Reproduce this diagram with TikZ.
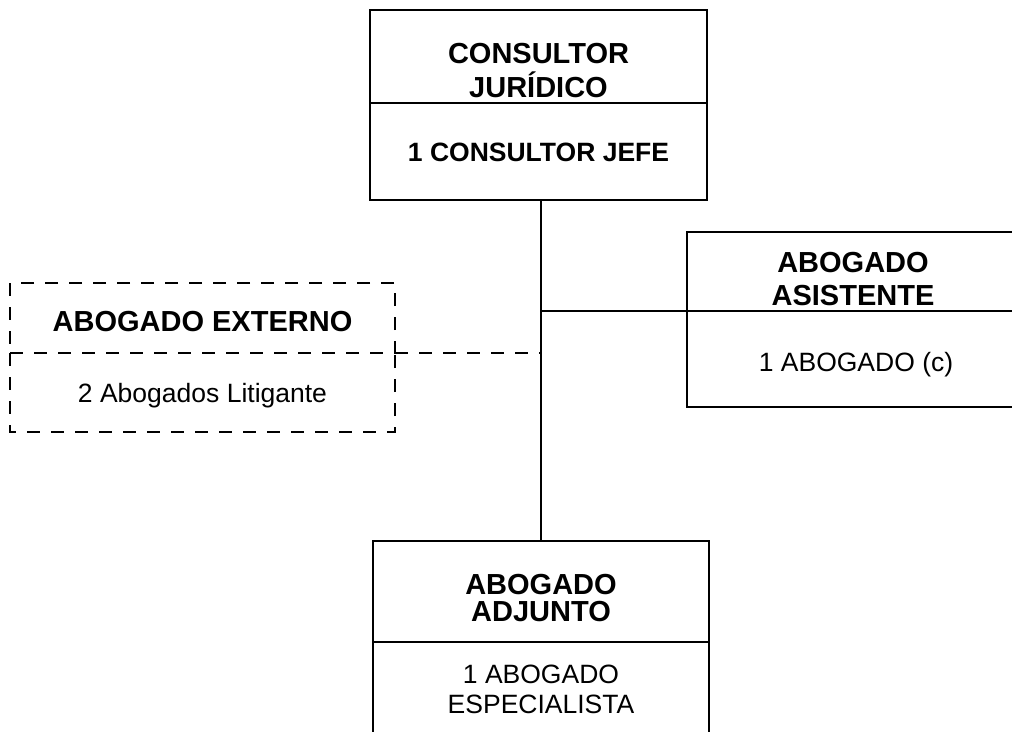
\documentclass[tikz,border=0pt]{standalone}
\usepackage{fontspec}
\setmainfont{Liberation Sans}
\begin{document}
\begin{tikzpicture}[x=1pt,y=-1pt,
  box/.style={draw, line width=2pt, rectangle, inner sep=0pt, outer sep=0pt, anchor=north west},
  dbox/.style={box, dash pattern=on 13pt off 11pt},
  area/.style={rectangle, inner sep=0pt, outer sep=0pt, anchor=north west},
  ttl/.style={font=\fontsize{29}{34}\selectfont\bfseries, anchor=base, inner sep=0pt},
  bdy/.style={font=\fontsize{26.5}{30}\selectfont, anchor=base, inner sep=0pt},
  bdyb/.style={font=\fontsize{26.5}{30}\selectfont\bfseries, anchor=base, inner sep=0pt},
  link/.style={line width=2pt},
  dlink/.style={line width=2pt, dash pattern=on 13pt off 11pt}]
\useasboundingbox (0,0) rectangle (1012,731);
\clip (0,0) rectangle (1012,731);

% CONSULTOR JURIDICO
\node[box, minimum width=337pt, minimum height=93pt] (topT) at (370,10) {};
\node[box, minimum width=337pt, minimum height=97pt] (topB) at (370,103) {};
% ABOGADO ASISTENTE
\node[box, minimum width=340pt, minimum height=79pt] (asiT) at (687,232) {};
\node[box, minimum width=340pt, minimum height=96pt] (asiB) at (687,311) {};
% ABOGADO EXTERNO (dashed)
\node[dbox, minimum width=385pt, minimum height=70pt] (extT) at (10,283) {};
\node[area, minimum width=385pt, minimum height=79pt] (extB) at (10,353) {};
\draw[dlink] (extT.south west) |- (extB.south east) -- (extT.south east);
% ABOGADO ADJUNTO
\node[box, minimum width=336pt, minimum height=101pt] (adjT) at (373,541) {};
\node[box, minimum width=336pt, minimum height=120pt] (adjB) at (373,642) {};

% texts
\node[ttl] (t1a) at (538.5,63) {CONSULTOR};
\node[ttl] (t1b) at (538.5,97) {JURÍDICO};
\node[bdyb] (b1) at (538.5,161) {1 CONSULTOR JEFE};
\node[ttl] (t2a) at (853,272.7) {ABOGADO};
\node[ttl] (t2b) at (853,305) {ASISTENTE};
\node[bdy] (b2) at (856,371.7) {1 ABOGADO (c)};
\node[ttl] (t3) at (202.5,331.7) {ABOGADO EXTERNO};
\node[bdy] (b3) at (202.5,402.7) {2 Abogados Litigante};
\node[ttl] (t4a) at (541,594) {ABOGADO};
\node[ttl] (t4b) at (541,621.7) {ADJUNTO};
\node[bdy] (b4a) at (541,683.3) {1 ABOGADO};
\node[bdy] (b4b) at (541,713.3) {ESPECIALISTA};

% connectors
\draw[link] (topB.south -| adjT.north) -- (adjT.north);
\draw[link] (asiT.south west) -- (asiT.south west -| adjT.north);
\draw[dlink] (extT.south east) -- (extT.south east -| adjT.north);
\end{tikzpicture}
\end{document}
